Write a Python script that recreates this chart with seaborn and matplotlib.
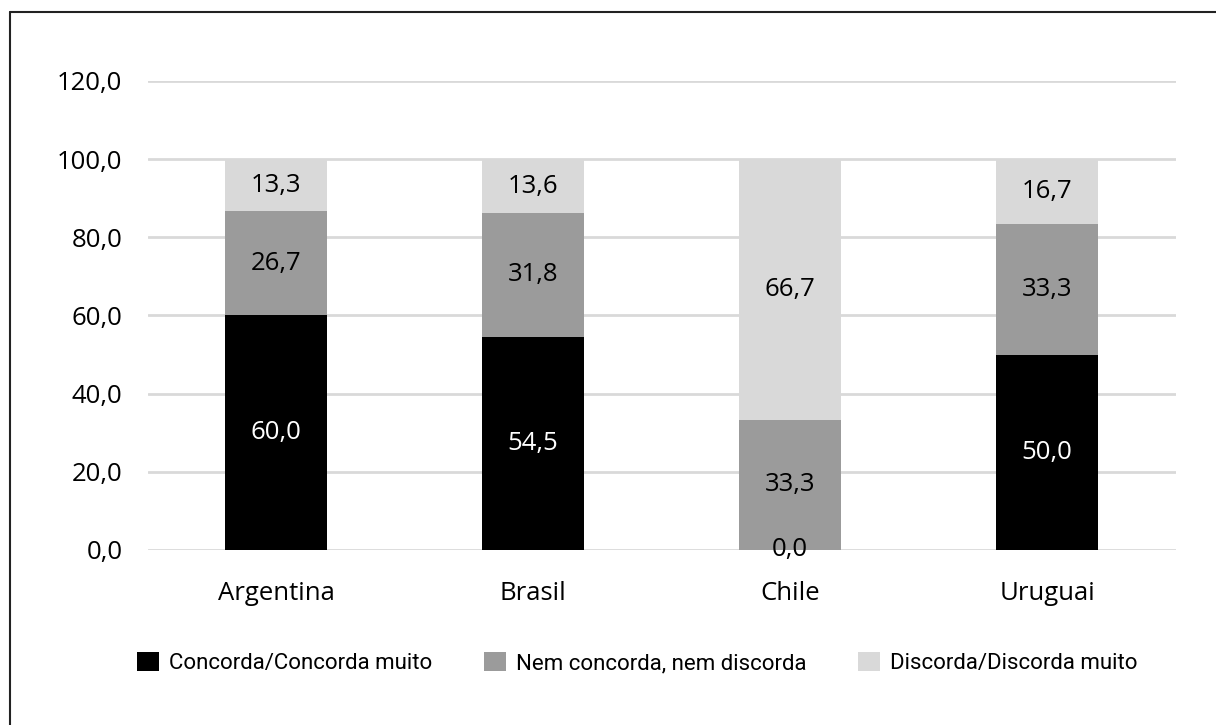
import matplotlib
matplotlib.use("Agg")
import matplotlib.pyplot as plt
import seaborn as sns
import pandas as pd
from matplotlib.lines import Line2D
from matplotlib.patches import Patch

# data
countries = ["Argentina", "Brasil", "Chile", "Uruguai"]
series = ["Concorda/Concorda muito", "Nem concorda, nem discorda", "Discorda/Discorda muito"]
concorda = [60.0, 54.5, 0.0, 50.0]
nem = [26.7, 31.8, 33.3, 33.3]
discorda = [13.3, 13.6, 66.7, 16.7]
colors = ["#000000", "#9b9b9b", "#d9d9d9"]
label_colors = ["white", "black", "black"]
yticks = [0, 20, 40, 60, 80, 100, 120]

sns.set_theme(style="white")
plt.rcParams["font.family"] = ["Open Sans", "DejaVu Sans"]
plt.rcParams["text.color"] = "black"
plt.rcParams["xtick.color"] = "black"
plt.rcParams["ytick.color"] = "black"

fig = plt.figure(figsize=(12.16, 7.25), dpi=100)
ax = fig.add_axes([0.1213, 0.2414, 0.8454, 0.6469])

values = [concorda, nem, discorda]
bottom = [0.0] * len(countries)
for name, vals, col, lc in zip(series, values, colors, label_colors):
    df = pd.DataFrame({"pais": countries, "valor": vals})
    sns.barplot(data=df, x="pais", y="valor", color=col, width=0.4,
                bottom=bottom, ax=ax, saturation=1, zorder=3, linewidth=0,
                edgecolor="none")
    for i, (v, b) in enumerate(zip(vals, bottom)):
        ax.text(i, b + v / 2, f"{v:.1f}".replace(".", ","), ha="center", va="center",
                color=lc if v > 0 else "black", fontsize=18.5, zorder=4)
    bottom = [b + v for b, v in zip(bottom, vals)]

ax.set_ylim(0, 120)
ax.set_xlim(-0.5, 3.5)
ax.set_yticks(yticks)
ax.set_yticklabels([f"{t:.1f}".replace(".", ",") for t in yticks], fontsize=18.5)
ax.tick_params(axis="x", labelsize=18.5, pad=22, length=0)
ax.tick_params(axis="y", pad=18, length=0)
ax.set_xlabel("")
ax.set_ylabel("")
for s in ax.spines.values():
    s.set_visible(False)
ax.yaxis.grid(True, color="#d9d9d9", linewidth=2, zorder=0)
ax.set_axisbelow(True)

handles = [Patch(facecolor=c, edgecolor="none") for c in colors]
fig.legend(handles, series, loc="center", bbox_to_anchor=(0.524, 0.085), ncol=3,
           frameon=False, handlelength=1.0, handleheight=0.9, handletextpad=0.45,
           columnspacing=2.3, prop={"family": ["Roboto", "DejaVu Sans"], "size": 16})

# frame lines (top and left)
fig.add_artist(Line2D([9.5 / 1216, 1.0], [1 - 11.5 / 725] * 2, color="#222222", lw=1.5,
                      transform=fig.transFigure))
fig.add_artist(Line2D([9.5 / 1216] * 2, [0.0, 1 - 11.5 / 725], color="#222222", lw=1.5,
                      transform=fig.transFigure))

fig.savefig("out.png", dpi=100)
